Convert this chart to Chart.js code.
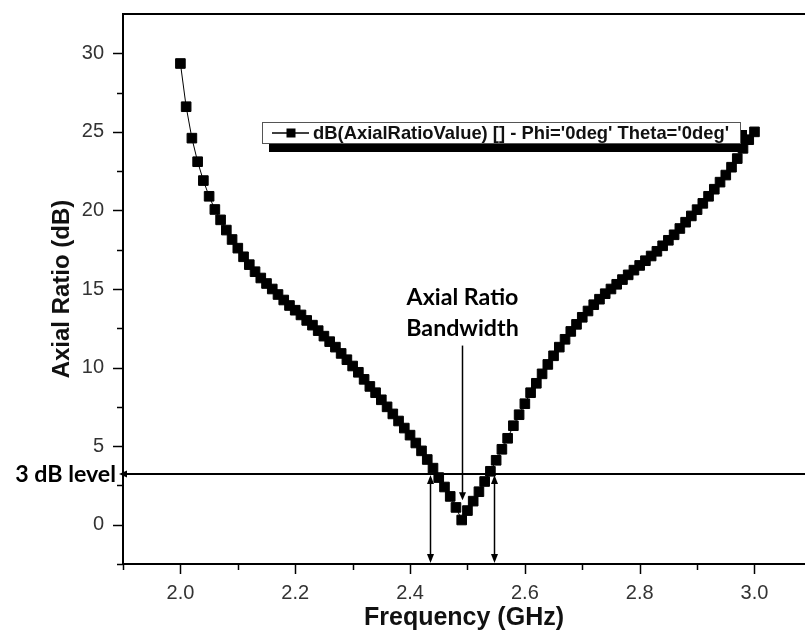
<!DOCTYPE html>
<html><head><meta charset="utf-8">
<script src="https://cdn.jsdelivr.net/npm/chart.js@4/dist/chart.umd.min.js"></script>
<style>html,body{margin:0;padding:0;background:#fff;}#wrap{width:805px;height:633px;position:relative;}</style>
</head><body><div id="wrap"><canvas id="c" width="805" height="633"></canvas></div>
<script>
const frequencies = [2.00,2.01,2.02,2.03,2.04,2.05,2.06,2.07,2.08,2.09,
2.10,2.11,2.12,2.13,2.14,2.15,2.16,2.17,2.18,2.19,
2.20,2.21,2.22,2.23,2.24,2.25,2.26,2.27,2.28,2.29,
2.30,2.31,2.32,2.33,2.34,2.35,2.36,2.37,2.38,2.39,
2.40,2.41,2.42,2.43,2.44,2.45,2.46,2.47,2.48,2.49,
2.50,2.51,2.52,2.53,2.54,2.55,2.56,2.57,2.58,2.59,
2.60,2.61,2.62,2.63,2.64,2.65,2.66,2.67,2.68,2.69,
2.70,2.71,2.72,2.73,2.74,2.75,2.76,2.77,2.78,2.79,
2.80,2.81,2.82,2.83,2.84,2.85,2.86,2.87,2.88,2.89,
2.90,2.91,2.92,2.93,2.94,2.95,2.96,2.97,2.98,2.99,3.00];
const axialRatio = [29.35,26.6,24.6,23.1,21.9,20.9,20.06,19.4,18.75,18.15,
17.6,17.05,16.55,16.1,15.7,15.35,15.0,14.65,14.3,13.95,
13.65,13.35,13.0,12.7,12.35,12.0,11.65,11.3,10.9,10.5,
10.1,9.7,9.25,8.8,8.4,7.95,7.5,7.05,6.6,6.15,
5.7,5.2,4.7,4.15,3.6,3.0,2.4,1.8,1.1,0.3,
0.9,1.5,2.1,2.75,3.4,4.1,4.8,5.5,6.3,7.0,
7.7,8.4,9.0,9.6,10.2,10.75,11.3,11.8,12.3,12.75,
13.2,13.6,14.0,14.35,14.7,15.0,15.3,15.6,15.9,16.2,
16.5,16.8,17.1,17.4,17.75,18.1,18.45,18.85,19.25,19.65,
20.05,20.45,20.9,21.35,21.8,22.25,22.75,23.3,23.95,24.5,25.0];
const xTickValues = [2.0,2.2,2.4,2.6,2.8,3.0];
const xTickLabels = ['2.0','2.2','2.4','2.6','2.8','3.0'];
const xMinorTicks = [1.9,2.1,2.3,2.5,2.7,2.9];
const yTickValues = [0,5,10,15,20,25,30];
const yTickLabels = ['0','5','10','15','20','25','30'];
const yMinorTicks = [-2.5,2.5,7.5,12.5,17.5,22.5,27.5];
const seriesName = "dB(AxialRatioValue) [] - Phi='0deg' Theta='0deg'";
const xTitle = 'Frequency (GHz)';
const yTitle = 'Axial Ratio (dB)';
const threeDbLevel = 3.2;
const threeDbLabel = '3 dB level';
const bandwidthEdges = [2.434, 2.547];
const bandwidthCenter = 2.49;
const bandwidthLabel = ['Axial Ratio', 'Bandwidth'];

function arrowHead(ctx, tx, ty, dir, len, hw) {
  ctx.beginPath();
  if (dir === 'down') { ctx.moveTo(tx, ty); ctx.lineTo(tx-hw, ty-len); ctx.lineTo(tx+hw, ty-len); }
  else if (dir === 'up') { ctx.moveTo(tx, ty); ctx.lineTo(tx-hw, ty+len); ctx.lineTo(tx+hw, ty+len); }
  else if (dir === 'left') { ctx.moveTo(tx, ty); ctx.lineTo(tx+len, ty-hw); ctx.lineTo(tx+len, ty+hw); }
  ctx.closePath(); ctx.fill();
}
function fitFont(ctx, text, weight, family, target) {
  ctx.font = weight + ' 20px ' + family;
  const w = ctx.measureText(text).width;
  return 20 * target / w;
}

const annotate = {
  id: 'annotate',
  afterDraw(chart) {
    const {ctx, chartArea: ca, scales: {x, y}} = chart;
    ctx.save();
    ctx.strokeStyle = '#000'; ctx.fillStyle = '#000';
    // top frame line
    ctx.lineWidth = 2;
    ctx.beginPath(); ctx.moveTo(ca.left - 1, ca.top); ctx.lineTo(ca.right, ca.top); ctx.stroke();
    // ticks
    ctx.lineWidth = 1.5;
    const majorLen = 10, minorLen = 6;
    xTickValues.forEach(v => { const px = Math.round(x.getPixelForValue(v)) + 0.5; ctx.beginPath(); ctx.moveTo(px, ca.bottom); ctx.lineTo(px, ca.bottom + majorLen); ctx.stroke(); });
    xMinorTicks.forEach(v => { const px = Math.round(x.getPixelForValue(v)) + 0.5; ctx.beginPath(); ctx.moveTo(px, ca.bottom); ctx.lineTo(px, ca.bottom + minorLen); ctx.stroke(); });
    yTickValues.forEach(v => { const py = Math.round(y.getPixelForValue(v)) + 0.5; ctx.beginPath(); ctx.moveTo(ca.left, py); ctx.lineTo(ca.left - majorLen, py); ctx.stroke(); });
    yMinorTicks.forEach(v => { const py = Math.round(y.getPixelForValue(v)) + 0.5; ctx.beginPath(); ctx.moveTo(ca.left, py); ctx.lineTo(ca.left - minorLen, py); ctx.stroke(); });

    // 3 dB level line
    const y3 = Math.round(y.getPixelForValue(threeDbLevel));
    ctx.lineWidth = 2;
    ctx.beginPath(); ctx.moveTo(ca.left + 4, y3); ctx.lineTo(chart.width, y3); ctx.stroke();
    arrowHead(ctx, ca.left - 4, y3, 'left', 8, 3.5);
    ctx.font = 'bold ' + fitFont(ctx, threeDbLabel, 'bold', 'Lato', 101).toFixed(1) + 'px Lato';
    ctx.textAlign = 'right'; ctx.textBaseline = 'middle';
    ctx.fillText(threeDbLabel, ca.left - 7, y3 + 1);

    // bandwidth edge arrows
    ctx.lineWidth = 1.5;
    bandwidthEdges.forEach(f => {
      const px = Math.round(x.getPixelForValue(f)) + 0.5;
      ctx.beginPath(); ctx.moveTo(px, y3 + 8); ctx.lineTo(px, ca.bottom - 8); ctx.stroke();
      arrowHead(ctx, px, y3 + 1, 'up', 9, 3.5);
      arrowHead(ctx, px, ca.bottom - 1, 'down', 9, 3.5);
    });

    // center arrow + label
    const cx = Math.round(x.getPixelForValue(bandwidthCenter)) + 0.5;
    const yTop = y.getPixelForValue(11.4), yTip = y.getPixelForValue(1.55);
    ctx.beginPath(); ctx.moveTo(cx, yTop); ctx.lineTo(cx, yTip - 7); ctx.stroke();
    arrowHead(ctx, cx, yTip, 'down', 8, 3.5);
    const fs = fitFont(ctx, bandwidthLabel[0], 'bold', 'Lato', 112);
    ctx.font = 'bold ' + fs.toFixed(1) + 'px Lato';
    ctx.textAlign = 'center'; ctx.textBaseline = 'middle';
    ctx.fillText(bandwidthLabel[0], cx, y.getPixelForValue(14.45));
    ctx.fillText(bandwidthLabel[1], cx, y.getPixelForValue(12.5));

    // legend with shadow
    const lx = ca.left + 139, ly = ca.top + 108, lw = 478, lh = 21;
    ctx.fillStyle = '#000';
    ctx.fillRect(lx + 7, ly + 8, lw, lh + 1);
    ctx.fillStyle = '#fff';
    ctx.fillRect(lx, ly, lw, lh);
    ctx.strokeStyle = '#555'; ctx.lineWidth = 1;
    ctx.strokeRect(lx + 0.5, ly + 0.5, lw, lh);
    const my = ly + lh / 2 + 0.5;
    ctx.strokeStyle = '#000'; ctx.lineWidth = 1.5;
    ctx.beginPath(); ctx.moveTo(lx + 10, my); ctx.lineTo(lx + 47, my); ctx.stroke();
    ctx.fillStyle = '#000';
    ctx.fillRect(lx + 24.5, my - 4.5, 9, 9);
    const lfs = Math.min(18.5, fitFont(ctx, seriesName, 'bold', '"Liberation Sans", Arial, sans-serif', 417));
    ctx.font = 'bold ' + lfs.toFixed(1) + 'px "Liberation Sans", Arial, sans-serif';
    ctx.textAlign = 'left'; ctx.textBaseline = 'middle';
    ctx.fillStyle = '#111';
    ctx.fillText(seriesName, lx + 51, my + 1);
    ctx.restore();
  }
};

const points = frequencies.map((f, i) => ({x: f, y: axialRatio[i]}));

new Chart(document.getElementById('c'), {
  type: 'line',
  data: { datasets: [{
    label: seriesName,
    data: points,
    borderColor: '#000', borderWidth: 1,
    pointStyle: 'rect', pointRadius: 6.8, pointBorderWidth: 1,
    pointBackgroundColor: '#000', pointBorderColor: '#000',
    tension: 0, fill: false
  }]},
  options: {
    responsive: false, animation: false, devicePixelRatio: 1,
    layout: { autoPadding: false, padding: { top: 14, right: 0, left: 0, bottom: 0 } },
    plugins: { legend: { display: false }, tooltip: { enabled: false } },
    scales: {
      x: {
        type: 'linear', min: 1.9, max: 3.088,
        afterBuildTicks: s => { s.ticks = xTickValues.map(v => ({value: v})); },
        afterFit: s => { s.height = 69; s.paddingLeft = 0; s.paddingRight = 0; s.paddingTop = 0; s.paddingBottom = 0; },
        grid: { display: false, drawTicks: false, tickLength: 0 },
        border: { display: true, color: '#000', width: 2 },
        ticks: { padding: 17, color: '#333', font: { family: '"Liberation Sans", Arial, sans-serif', size: 20 },
          callback: (v) => { const k = xTickValues.findIndex(t => Math.abs(t - v) < 1e-6); return k >= 0 ? xTickLabels[k] : ''; } },
        title: { display: true, text: xTitle, color: '#111', padding: { top: 0, bottom: 0 },
          font: { family: '"Liberation Sans", Arial, sans-serif', size: 25, weight: 'bold' } }
      },
      y: {
        type: 'linear', min: -2.5, max: 32.5,
        afterBuildTicks: s => { s.ticks = yTickValues.map(v => ({value: v})); },
        afterFit: s => { s.width = 123; s.paddingLeft = 0; s.paddingRight = 0; s.paddingTop = 0; s.paddingBottom = 0; },
        grid: { display: false, drawTicks: false, tickLength: 0 },
        border: { display: true, color: '#000', width: 2 },
        ticks: { padding: 19, color: '#333', font: { family: '"Liberation Sans", Arial, sans-serif', size: 20 },
          callback: (v) => { const k = yTickValues.findIndex(t => Math.abs(t - v) < 1e-6); return k >= 0 ? yTickLabels[k] : ''; } },
        title: { display: true, text: yTitle, color: '#111', padding: { top: 48, bottom: 0 },
          font: { family: '"Liberation Sans", Arial, sans-serif', size: 24, weight: 'bold' } }
      }
    }
  },
  plugins: [annotate]
});
</script></body></html>
